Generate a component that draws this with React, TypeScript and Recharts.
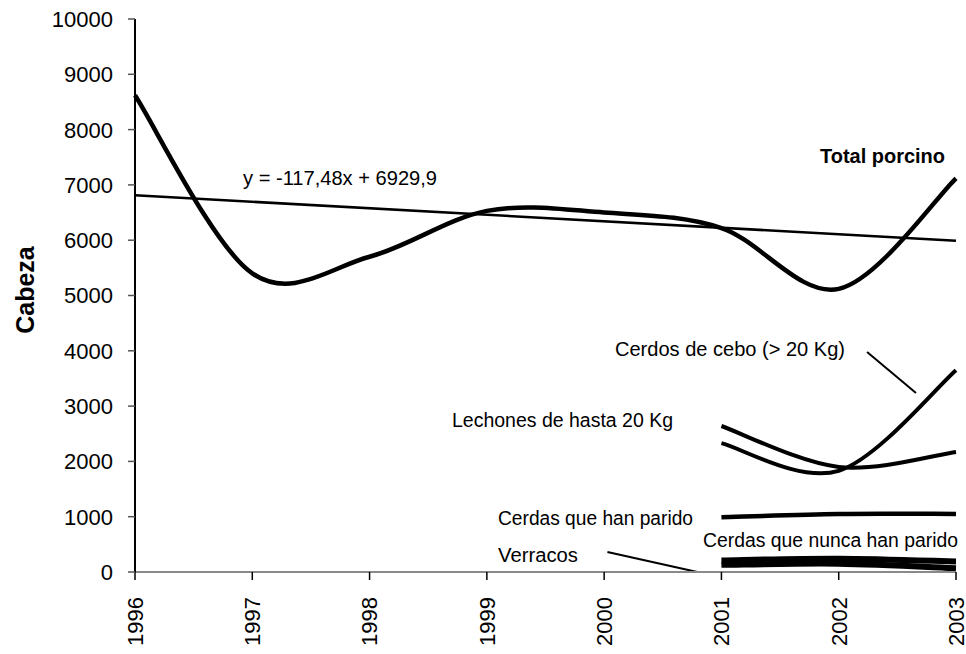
import React from 'react';
import { LineChart, Line, XAxis, YAxis, ReferenceLine, Customized } from 'recharts';

const years = [1996, 1997, 1998, 1999, 2000, 2001, 2002, 2003];
const totalPorcino = [8620, 5400, 5700, 6530, 6500, 6220, 5120, 7120];
const trendValues = [6812, null, null, null, null, null, null, 5990];
const cerdosCebo = [null, null, null, null, null, 2330, 1830, 3650];
const lechones = [null, null, null, null, null, 2640, 1900, 2170];
const cerdasParido = [null, null, null, null, null, 990, 1050, 1050];
const cerdasNunca = [null, null, null, null, null, 210, 240, 190];
const verracos = [null, null, null, null, null, 130, 150, 70];
const yTicks = [0, 1000, 2000, 3000, 4000, 5000, 6000, 7000, 8000, 9000, 10000];

const data = years.map((year, i) => ({
  year,
  total: totalPorcino[i],
  trend: trendValues[i],
  cebo: cerdosCebo[i],
  lechones: lechones[i],
  parido: cerdasParido[i],
  nunca: cerdasNunca[i],
  verracos: verracos[i],
}));

const FONT = '"Liberation Sans", Arial, sans-serif';

// Excel-like smoothed line (Catmull-Rom converted to Bezier)
const excelSmooth = (context: any) => {
  let xs: number[] = [];
  let ys: number[] = [];
  return {
    areaStart() {},
    areaEnd() {},
    lineStart() {
      xs = [];
      ys = [];
    },
    lineEnd() {
      const n = xs.length;
      if (n === 0) return;
      context.moveTo(xs[0], ys[0]);
      if (n === 1) return;
      for (let i = 0; i < n - 1; i++) {
        const i0 = Math.max(0, i - 1);
        const i3 = Math.min(n - 1, i + 2);
        const c1x = xs[i] + (xs[i + 1] - xs[i0]) / 6;
        const c1y = ys[i] + (ys[i + 1] - ys[i0]) / 6;
        const c2x = xs[i + 1] - (xs[i3] - xs[i]) / 6;
        const c2y = ys[i + 1] - (ys[i3] - ys[i]) / 6;
        context.bezierCurveTo(c1x, c1y, c2x, c2y, xs[i + 1], ys[i + 1]);
      }
    },
    point(x: number, y: number) {
      xs.push(+x);
      ys.push(+y);
    },
  };
};

const XTick = (props: any) => {
  const { x, y, payload } = props;
  return (
    <g transform={`translate(${x},${y})`}>
      <text
        transform="rotate(-90)"
        textAnchor="end"
        dy="0.36em"
        fontSize={22}
        fontFamily={FONT}
        fill="#000"
      >
        {payload.value}
      </text>
    </g>
  );
};

const YTick = (props: any) => {
  const { x, y, payload } = props;
  return (
    <text x={x} y={y} dy="0.36em" textAnchor="end" fontSize={22} fontFamily={FONT} fill="#000">
      {payload.value}
    </text>
  );
};

const Annotations = () => (
  <g fontFamily={FONT} fill="#000">
    <text transform="translate(34,290) rotate(-90)" textAnchor="middle" fontSize={25} fontWeight="bold">
      Cabeza
    </text>
    <text x={820} y={163} fontSize={21} fontWeight="bold" textLength={125} lengthAdjust="spacingAndGlyphs">
      Total porcino
    </text>
    <text x={243} y={185} fontSize={20} textLength={194} lengthAdjust="spacingAndGlyphs">
      y = -117,48x + 6929,9
    </text>
    <text x={615} y={356} fontSize={20} textLength={230} lengthAdjust="spacingAndGlyphs">
      Cerdos de cebo (&gt; 20 Kg)
    </text>
    <text x={452} y={427} fontSize={20} textLength={221} lengthAdjust="spacingAndGlyphs">
      Lechones de hasta 20 Kg
    </text>
    <text x={498} y={525} fontSize={20} textLength={195} lengthAdjust="spacingAndGlyphs">
      Cerdas que han parido
    </text>
    <text x={703} y={547} fontSize={20} textLength={255} lengthAdjust="spacingAndGlyphs">
      Cerdas que nunca han parido
    </text>
    <text x={498} y={562} fontSize={20} textLength={80} lengthAdjust="spacingAndGlyphs">
      Verracos
    </text>
  </g>
);

export default function App() {
  return (
    <div style={{ position: 'absolute', left: 0, top: 0, width: 966, height: 654, background: '#fff' }}>
      <LineChart width={966} height={654} data={data} margin={{ top: 19, right: 10, bottom: 0, left: 0 }}>
        <XAxis
          dataKey="year"
          type="number"
          domain={[1996, 2003]}
          ticks={years}
          interval={0}
          height={82}
          axisLine={{ stroke: '#8a8a8a', strokeWidth: 2 }}
          tickLine={{ stroke: '#000', strokeWidth: 1.5 }}
          tickSize={8}
          tickMargin={17}
          tick={<XTick />}
        />
        <YAxis
          type="number"
          domain={[0, 10000]}
          ticks={yTicks}
          interval={0}
          width={135}
          axisLine={{ stroke: '#000', strokeWidth: 2 }}
          tickLine={{ stroke: '#555', strokeWidth: 1.5 }}
          tickSize={7}
          tickMargin={15}
          tick={<YTick />}
        />
        <Line dataKey="trend" type="linear" stroke="#000" strokeWidth={2.6} dot={false} connectNulls isAnimationActive={false} />
        <Line dataKey="total" type={excelSmooth as any} stroke="#000" strokeWidth={4.5} dot={false} isAnimationActive={false} />
        <Line dataKey="cebo" type={excelSmooth as any} stroke="#000" strokeWidth={4} dot={false} isAnimationActive={false} />
        <Line dataKey="lechones" type={excelSmooth as any} stroke="#000" strokeWidth={4} dot={false} isAnimationActive={false} />
        <Line dataKey="parido" type={excelSmooth as any} stroke="#000" strokeWidth={4.5} dot={false} isAnimationActive={false} />
        <Line dataKey="nunca" type={excelSmooth as any} stroke="#000" strokeWidth={6} dot={false} isAnimationActive={false} />
        <Line dataKey="verracos" type={excelSmooth as any} stroke="#000" strokeWidth={6} dot={false} isAnimationActive={false} />
        <ReferenceLine segment={[{ x: 2002.242, y: 3978 }, { x: 2002.659, y: 3237 }]} stroke="#000" strokeWidth={2} ifOverflow="visible" />
        <ReferenceLine segment={[{ x: 2000.028, y: 362 }, { x: 2000.794, y: 0 }]} stroke="#000" strokeWidth={2} ifOverflow="visible" />
        <Customized component={Annotations} />
      </LineChart>
    </div>
  );
}
